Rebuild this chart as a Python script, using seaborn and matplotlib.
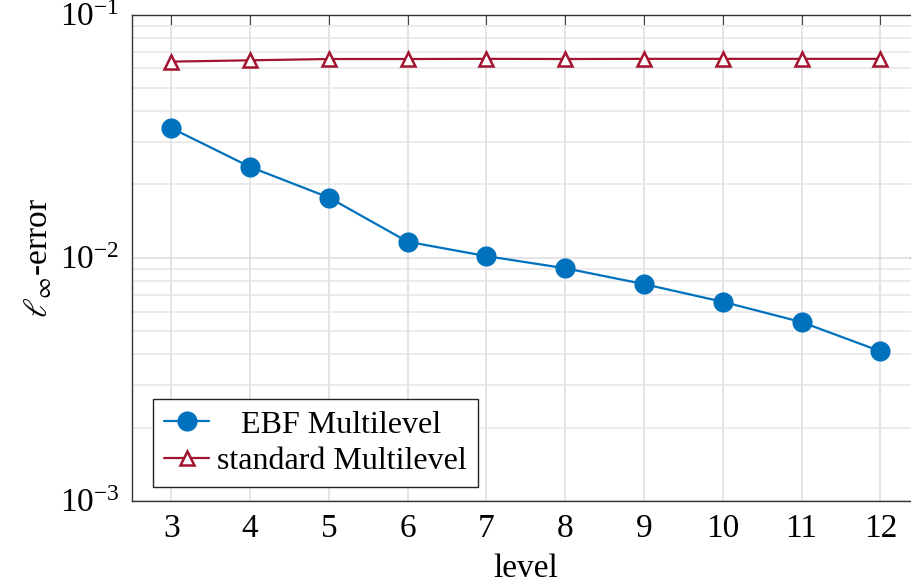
import matplotlib
matplotlib.use("Agg")
import matplotlib.pyplot as plt
import matplotlib.ticker as mticker
import seaborn as sns
import pandas as pd

# data
levels = [3, 4, 5, 6, 7, 8, 9, 10, 11, 12]
ebf_err = [0.0341, 0.0236, 0.01766, 0.01162, 0.01014, 0.00904, 0.00778, 0.00658, 0.00543, 0.00412]
std_err = [0.0640, 0.0648, 0.0656, 0.0656, 0.0657, 0.0656, 0.0657, 0.0657, 0.0657, 0.0657]

df = pd.DataFrame({"level": levels * 2,
                   "err": ebf_err + std_err,
                   "method": ["EBF Multilevel"] * 10 + ["standard Multilevel"] * 10})

sns.set_style("white")
plt.rcParams["font.family"] = ["Liberation Serif", "DejaVu Serif"]
plt.rcParams["mathtext.fontset"] = "stix"
plt.rcParams["font.size"] = 24
plt.rcParams["text.color"] = "black"
plt.rcParams["axes.labelcolor"] = "black"
plt.rcParams["xtick.color"] = "black"
plt.rcParams["ytick.color"] = "black"

blue = "#0072BD"
red = "#A2142F"

fig = plt.figure(figsize=(9.11, 5.86), dpi=100)
ax = fig.add_axes([132 / 911, 85.3 / 586, 787.7 / 911, 486.2 / 586])

ax.set_yscale("log")
ax.set_ylim(1e-3, 1e-1)
ax.set_xlim(2.5, 12.5)

sns.lineplot(data=df[df.method == "EBF Multilevel"], x="level", y="err", ax=ax,
             color=blue, marker="o", markersize=14.5, markeredgewidth=0,
             linewidth=1.6, label="   EBF Multilevel", zorder=3)
sns.lineplot(data=df[df.method == "standard Multilevel"], x="level", y="err", ax=ax,
             color=red, marker="^", markersize=10.5, markerfacecolor="white",
             markeredgecolor=red, markeredgewidth=1.8,
             linewidth=1.6, label="standard Multilevel", zorder=3)

ax.set_xticks(levels)
ax.yaxis.set_major_locator(mticker.LogLocator(base=10, numticks=5))
ax.yaxis.set_minor_locator(mticker.LogLocator(base=10, subs=range(2, 10), numticks=20))
ax.yaxis.set_minor_formatter(mticker.NullFormatter())

ax.grid(True, which="major", color="#dcdcdc", linewidth=1.1)
ax.grid(True, which="minor", axis="y", color="#e6e6e6", linewidth=1.1)
ax.set_axisbelow(True)

ax.tick_params(axis="both", which="major", direction="in", length=7, width=0.8,
               top=True, right=True, labelsize=24, pad=9, color="#444444",
               labelcolor="black")
ax.tick_params(axis="y", which="minor", direction="in", length=4, width=0.6,
               right=True, color="#444444")
for s in ax.spines.values():
    s.set_color("#333333")
    s.set_linewidth(1.0)

ax.set_xlabel("level", fontsize=24, labelpad=7, color="black")
ax.set_ylabel(r"$\ell_\infty$-error", fontsize=24, labelpad=4, color="black")

leg = ax.legend(loc="lower left", bbox_to_anchor=(0.027, 0.028), fontsize=23,
                frameon=True, fancybox=False, edgecolor="#222222", framealpha=1,
                handlelength=1.4, handletextpad=0.25, borderpad=0.35, labelspacing=0.22,
                borderaxespad=0)
leg.get_frame().set_linewidth(1.0)
for t in leg.get_texts():
    t.set_color("black")

fig.savefig("out.png", dpi=100)
